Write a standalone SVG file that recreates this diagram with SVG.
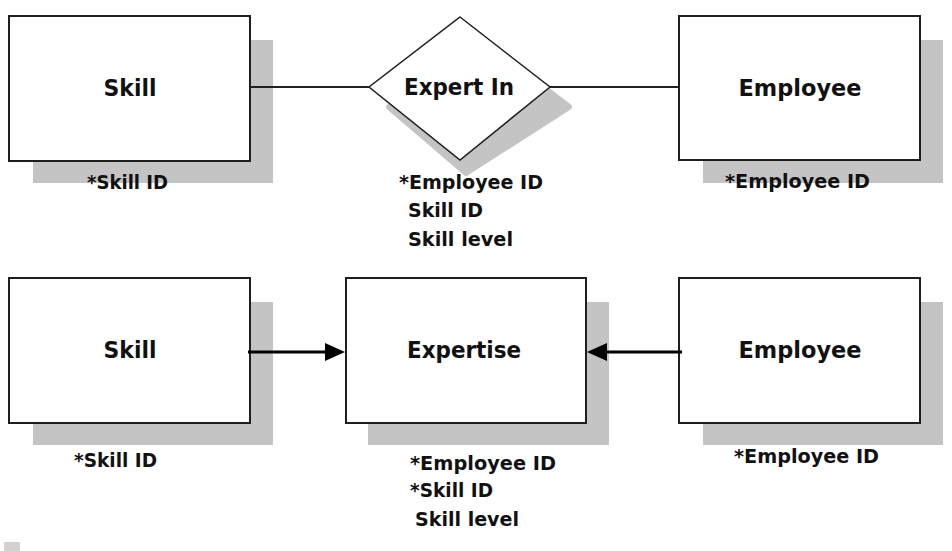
<svg xmlns="http://www.w3.org/2000/svg" width="952" height="551" viewBox="0 0 952 551">
  <style>
    .shadow { fill: #c4c4c4; }
    .box { fill: #ffffff; stroke: #1e1e1e; stroke-width: 2; }
    .title { font-family: "DejaVu Sans", "Liberation Sans", sans-serif; font-weight: bold; font-size: 23px; fill: #111; text-anchor: middle; }
    .attr { font-family: "DejaVu Sans", "Liberation Sans", sans-serif; font-weight: bold; font-size: 19.5px; fill: #111; }
    .link { stroke: #222; stroke-width: 2; fill: none; }
    .arrow { stroke: #000; stroke-width: 3; fill: none; }
  </style>
  <defs>
    <marker id="head" viewBox="0 0 20 18" refX="15" refY="9" markerWidth="20" markerHeight="18" markerUnits="userSpaceOnUse" orient="auto">
      <path d="M0,0 L20,9 L0,18 Z" fill="#000"/>
    </marker>
  </defs>
  <rect width="952" height="551" fill="#ffffff"/>

  <g id="skill-top">
    <rect class="shadow" x="33" y="40" width="240" height="143"/>
    <rect class="box" x="9" y="16" width="241" height="145"/>
    <text class="title" x="130" y="96" textLength="53" lengthAdjust="spacingAndGlyphs">Skill</text>
    <text class="attr" x="87" y="189" textLength="81" lengthAdjust="spacingAndGlyphs">*Skill ID</text>
  </g>

  <g id="expert-in">
    <polygon class="shadow" points="478,37 569,107 466,173 389,107" stroke="#c4c4c4" stroke-width="6" stroke-linejoin="round"/>
    <polygon points="460,17 550,87 460,160 369,87" fill="#ffffff" stroke="#1e1e1e" stroke-width="1.5"/>
    <text class="title" x="459" y="95" textLength="110" lengthAdjust="spacingAndGlyphs">Expert In</text>
    <text class="attr" x="399" y="189" textLength="144" lengthAdjust="spacingAndGlyphs">*Employee ID</text>
    <text class="attr" x="408" y="217" textLength="75" lengthAdjust="spacingAndGlyphs">Skill ID</text>
    <text class="attr" x="408" y="246" textLength="105" lengthAdjust="spacingAndGlyphs">Skill level</text>
  </g>

  <g id="employee-top">
    <rect class="shadow" x="703" y="40" width="240" height="143"/>
    <rect class="box" x="679" y="16" width="241" height="144"/>
    <text class="title" x="800" y="96" textLength="123" lengthAdjust="spacingAndGlyphs">Employee</text>
    <text class="attr" x="725" y="188" textLength="145" lengthAdjust="spacingAndGlyphs">*Employee ID</text>
  </g>

  <g id="skill-bottom">
    <rect class="shadow" x="33" y="302" width="240" height="143"/>
    <rect class="box" x="9" y="278" width="241" height="145"/>
    <text class="title" x="130" y="358" textLength="53" lengthAdjust="spacingAndGlyphs">Skill</text>
    <text class="attr" x="74" y="467" textLength="83" lengthAdjust="spacingAndGlyphs">*Skill ID</text>
  </g>

  <g id="expertise">
    <rect class="shadow" x="368" y="302" width="241" height="143"/>
    <rect class="box" x="346" y="278" width="240" height="145"/>
    <text class="title" x="464" y="358" textLength="114" lengthAdjust="spacingAndGlyphs">Expertise</text>
    <text class="attr" x="410" y="470" textLength="146" lengthAdjust="spacingAndGlyphs">*Employee ID</text>
    <text class="attr" x="410" y="497" textLength="83" lengthAdjust="spacingAndGlyphs">*Skill ID</text>
    <text class="attr" x="415" y="526" textLength="104" lengthAdjust="spacingAndGlyphs">Skill level</text>
  </g>

  <g id="employee-bottom">
    <rect class="shadow" x="703" y="302" width="240" height="143"/>
    <rect class="box" x="679" y="278" width="241" height="145"/>
    <text class="title" x="800" y="358" textLength="123" lengthAdjust="spacingAndGlyphs">Employee</text>
    <text class="attr" x="734" y="463" textLength="145" lengthAdjust="spacingAndGlyphs">*Employee ID</text>
  </g>

  <g id="connectors">
    <line class="link" x1="250" y1="87" x2="369" y2="87"/>
    <line class="link" x1="550" y1="87" x2="679" y2="87"/>
    <line class="arrow" x1="248" y1="352" x2="340" y2="352" marker-end="url(#head)"/>
    <line class="arrow" x1="682" y1="352" x2="592" y2="352" marker-end="url(#head)"/>
  </g>

  <rect x="4" y="542" width="16" height="9" fill="#d4d0d0"/>
</svg>
